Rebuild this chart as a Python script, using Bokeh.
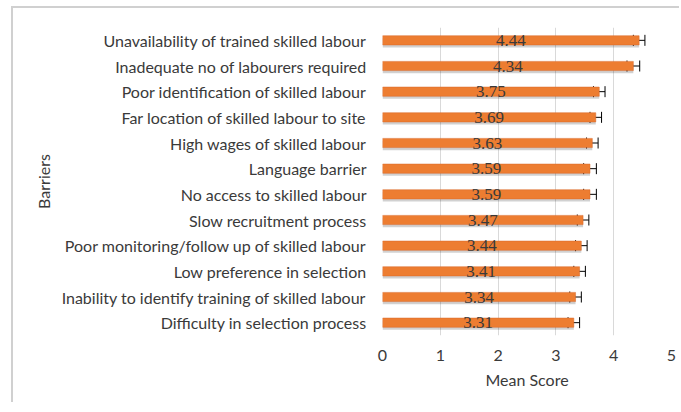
from bokeh.plotting import figure
from bokeh.models import ColumnDataSource, FactorRange, Whisker, LabelSet, TeeHead, FixedTicker
from bokeh.transform import dodge
from bokeh.embed import file_html
from bokeh.resources import INLINE

barriers = [
    "Unavailability of trained skilled labour",
    "Inadequate no of labourers required",
    "Poor identification of skilled labour",
    "Far location of skilled labour to site",
    "High wages of skilled labour",
    "Language barrier",
    "No access to skilled labour",
    "Slow recruitment process",
    "Poor monitoring/follow up of skilled labour",
    "Low preference in selection",
    "Inability to identify training of skilled labour",
    "Difficulty in selection process",
]
mean_scores = [4.44, 4.34, 3.75, 3.69, 3.63, 3.59, 3.59, 3.47, 3.44, 3.41, 3.34, 3.31]
errors = [0.10, 0.11, 0.10, 0.10, 0.10, 0.11, 0.11, 0.10, 0.10, 0.10, 0.10, 0.10]
x_ticks = [0, 1, 2, 3, 4, 5]

src = ColumnDataSource(dict(
    cat=barriers,
    val=mean_scores,
    mid=[v / 2 for v in mean_scores],
    lab=[f"{v:.2f}" for v in mean_scores],
    lo=[v - e for v, e in zip(mean_scores, errors)],
    hi=[v + e for v, e in zip(mean_scores, errors)],
))

FONT = "Lato"
TXT = "#3a3a3a"

p = figure(
    width=668, height=396,
    y_range=FactorRange(*list(reversed(barriers))),
    x_range=(0, 5),
    output_backend="svg", toolbar_location=None,
    min_border_left=369, min_border_right=10, min_border_top=19, min_border_bottom=69,
)
p.styles = {"margin-left": "11px", "margin-top": "6px",
            "border-left": "2px solid #d0d0d0", "border-top": "2px solid #d0d0d0"}
p.outline_line_color = None
p.ygrid.grid_line_color = None
p.xgrid.grid_line_color = "#d9d9d9"
p.xgrid.grid_line_width = 1

# shadow
p.hbar(y=dodge("cat", -0.1, range=p.y_range), left=0, right="val", height=0.36,
       source=src, fill_color="#000000", fill_alpha=0.18, line_color=None)
p.hbar(y="cat", left=0, right="val", height=0.36, source=src,
       fill_color="#ED7D31", line_color="#D9692A", line_width=0.5)

w = Whisker(base="cat", lower="lo", upper="hi", source=src, dimension="width",
            line_color="#000000", line_width=1,
            lower_head=TeeHead(size=11, line_color="#000000", line_width=1),
            upper_head=TeeHead(size=11, line_color="#000000", line_width=1))
p.add_layout(w)

labels = LabelSet(x="mid", y="cat", text="lab", source=src, text_align="center",
                  text_baseline="middle", text_font=FONT, text_font_size="17px",
                  text_color=TXT)
p.add_layout(labels)

p.xaxis.ticker = FixedTicker(ticks=x_ticks)
p.xaxis.axis_line_color = None
p.xaxis.major_tick_line_color = None
p.xaxis.minor_tick_line_color = None
p.xaxis.major_label_text_font = FONT
p.xaxis.major_label_text_font_size = "16px"
p.xaxis.major_label_text_color = TXT
p.xaxis.major_label_standoff = 8
p.xaxis.axis_label = "Mean Score"
p.xaxis.axis_label_text_font = FONT
p.xaxis.axis_label_text_font_size = "16px"
p.xaxis.axis_label_text_font_style = "normal"
p.xaxis.axis_label_text_color = TXT
p.xaxis.axis_label_standoff = 6

p.yaxis.axis_line_color = None
p.yaxis.major_tick_line_color = None
p.yaxis.major_label_text_font = FONT
p.yaxis.major_label_text_font_size = "16px"
p.yaxis.major_label_text_color = TXT
p.yaxis.major_label_standoff = 10
p.yaxis.axis_label = "Barriers"
p.yaxis.axis_label_text_font = FONT
p.yaxis.axis_label_text_font_size = "16px"
p.yaxis.axis_label_text_font_style = "normal"
p.yaxis.axis_label_text_color = TXT
p.yaxis.axis_label_standoff = 6

open("out.html", "w").write(file_html(p, INLINE))
